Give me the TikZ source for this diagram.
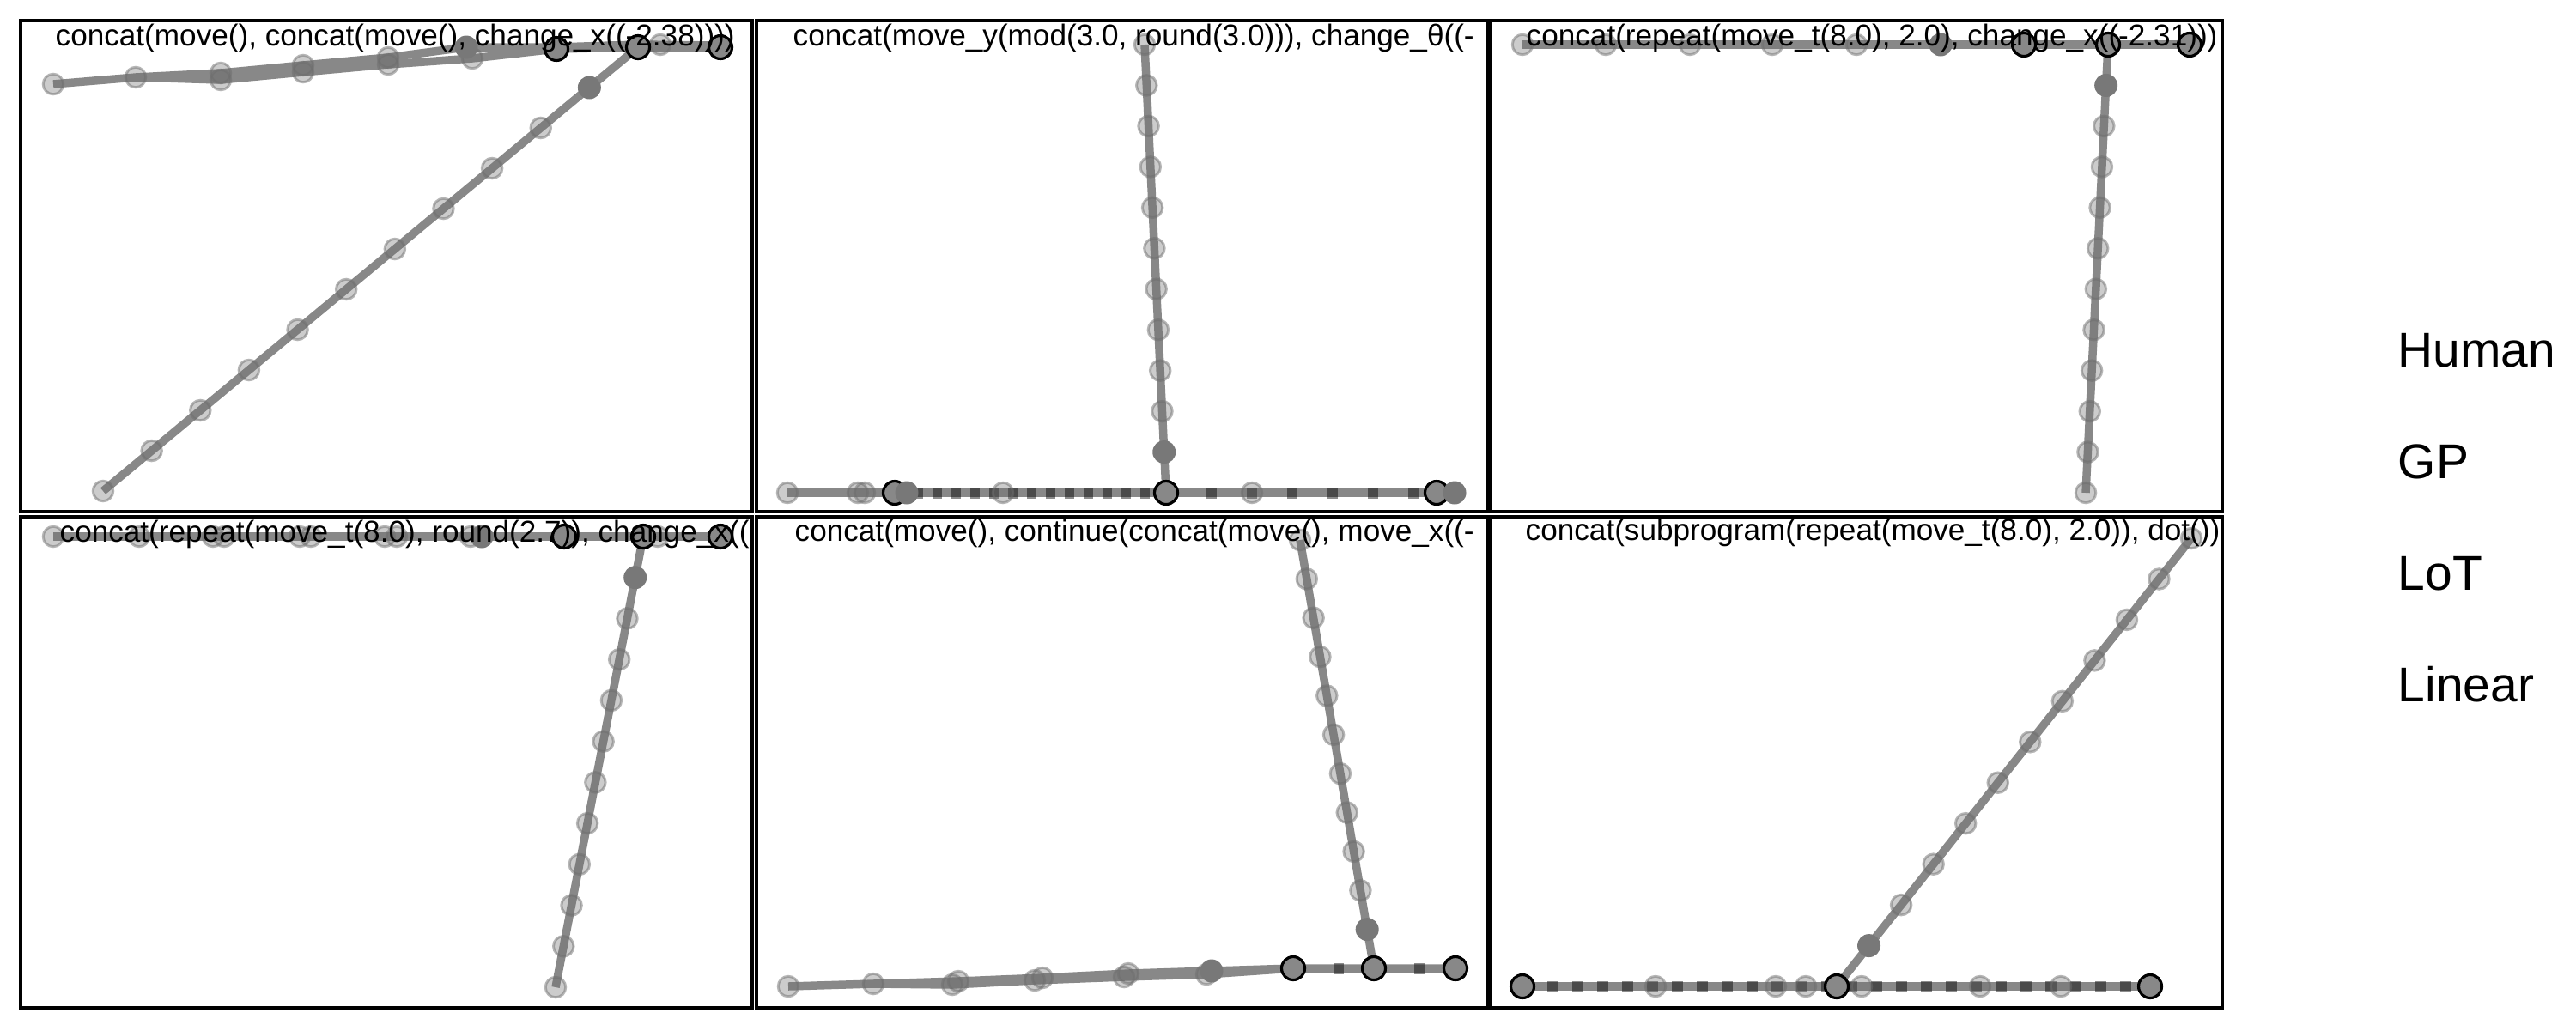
\documentclass[tikz,border=0pt]{standalone}
\usepackage{fontspec}
\setmainfont{Liberation Sans}
\usetikzlibrary{calc}
\newcommand{\PW}{8.52}
\newcommand{\PH}{5.72}
\definecolor{trk}{RGB}{136,136,136}
\definecolor{trkmark}{RGB}{110,110,110}
\definecolor{trkdark}{RGB}{120,120,120}

\begin{document}
\begin{tikzpicture}[x=1cm, y=-1cm,
    trace/.style={draw=trk, line width=2.7pt},
    penup/.style={draw=black, draw opacity=0.45, line width=3.7pt},
    lite/.style={circle, fill=trkmark, fill opacity=0.35, draw=trkmark, draw opacity=0.5, line width=0.85pt, minimum size=2.35mm, inner sep=0pt},
    dark/.style={circle, fill=trkdark, draw=none, minimum size=2.7mm, inner sep=0pt},
    endpt/.style={circle, fill=trk, draw=black, line width=0.9pt, minimum size=2.7mm, inner sep=0pt},
    frame/.style={draw=black, line width=1.15pt},
    prog/.style={anchor=base west, inner sep=0pt, font=\fontsize{10}{12}\selectfont},
    rowlab/.style={anchor=base west, inner sep=0pt, font=\fontsize{16.2}{19}\selectfont},
  ]
  \useasboundingbox (0,0) rectangle (30,12);

  %% top left
  \begin{scope}[shift={(0.24,0.24)}]
    \clip (0,0) rectangle (\PW,\PH);
    \foreach \i/\x/\y in {1/0.38/0.74, 2/1.34/0.66, 3/2.33/0.69, 4/3.29/0.60, 5/4.28/0.51, 6/5.26/0.44, 7/6.24/0.33, 8/7.19/0.31, 9/8.15/0.31}
      { \coordinate (aL\i) at (\x,\y); }
    \foreach \i/\x/\y in {1/1.34/0.66, 2/2.33/0.61, 3/3.29/0.52, 4/4.28/0.43, 5/5.19/0.31, 6/6.24/0.31, 7/7.19/0.28, 8/8.15/0.29}
      { \coordinate (aU\i) at (\x,\y); }
    \coordinate (aD0) at (aL8);
    \coordinate (aD11) at (0.96,5.48);
    \draw[trace] (aL1) \foreach \i in {2,...,9} { -- (aL\i) };
    \draw[trace] (aU1) \foreach \i in {2,...,8} { -- (aU\i) };
    \draw[trace] (aD0) -- (aD11);
    \foreach \i in {1,...,6} { \node[lite] (aLm\i) at (aL\i) {}; }
    \foreach \i in {2,3,4} { \node[lite] (aUm\i) at (aU\i) {}; }
    \node[dark] (aUm5) at (aU5) {};
    \node[lite] (aXm) at (7.45,0.28) {};
    \node[dark] (aDm1) at ($(aD0)!1/11!(aD11)$) {};
    \foreach \i in {2,...,11} { \node[lite] (aDm\i) at ($(aD0)!\i/11!(aD11)$) {}; }
    \foreach \i in {7,8,9} { \node[endpt] (aLm\i) at (aL\i) {}; }
    \node[prog] (t1) at (0.40,0.29) {concat(move(), concat(move(), change\_x((-2.38))))};
  \end{scope}
  \draw[frame] (0.24,0.24) rectangle ++(\PW,\PH);

  %% top middle
  \begin{scope}[shift={(8.81,0.24)}]
    \clip (0,0) rectangle (\PW,\PH);
    \coordinate (bV0) at (4.52,0.28);
    \coordinate (bV11) at (4.77,5.50);
    \coordinate (bH0) at (0.36,5.50);
    \coordinate (bH1) at (8.13,5.50);
    \coordinate (bJ0) at (1.61,5.50);
    \coordinate (bJ2) at (7.92,5.50);
    \draw[trace] (bV0) -- (bV11);
    \draw[trace] (bH0) -- (bH1);
    \draw[penup, dash pattern=on 1.1mm off 1.1mm] (bJ0) -- (bV11);
    \draw[penup, dash pattern=on 1.2mm off 3.5mm] (bV11) -- (bJ2);
    \foreach \i in {0,...,9} { \node[lite] (bVm\i) at ($(bV0)!\i/11!(bV11)$) {}; }
    \node[dark] (bVm10) at ($(bV0)!10/11!(bV11)$) {};
    \foreach \n/\x in {1/0.36, 2/1.18, 3/1.26, 4/2.87, 5/5.77} { \node[lite] (bHm\n) at (\x,5.50) {}; }
    \node[endpt] (bJm0) at (bJ0) {};
    \node[dark] (bHm6) at (1.75,5.50) {};
    \node[endpt] (bVm11) at (bV11) {};
    \node[endpt] (bJm2) at (bJ2) {};
    \node[dark] (bHm7) at (bH1) {};
    \node[prog] (t2) at (0.42,0.29) {concat(move\_y(mod(3.0, round(3.0))), change\_θ((-};
  \end{scope}
  \draw[frame] (8.81,0.24) rectangle ++(\PW,\PH);

  %% top right
  \begin{scope}[shift={(17.36,0.24)}]
    \clip (0,0) rectangle (\PW,\PH);
    \coordinate (cH0) at (0.37,0.28);
    \coordinate (cH1) at (8.14,0.28);
    \coordinate (cV0) at (7.19,0.28);
    \coordinate (cV11) at (6.93,5.50);
    \draw[trace] (cH0) -- (cH1);
    \draw[trace] (cV0) -- (cV11);
    \foreach \n/\x in {1/0.37, 2/1.34, 3/2.32, 4/3.28, 5/4.26} { \node[lite] (cHm\n) at (\x,0.28) {}; }
    \node[dark] (cHm6) at (5.24,0.28) {};
    \node[dark] (cVm1) at ($(cV0)!1/11!(cV11)$) {};
    \foreach \i in {2,...,11} { \node[lite] (cVm\i) at ($(cV0)!\i/11!(cV11)$) {}; }
    \foreach \n/\x in {7/6.21, 8/7.19, 9/8.14} { \node[endpt] (cHm\n) at (\x,0.28) {}; }
    \node[prog] (t3) at (0.41,0.29) {concat(repeat(move\_t(8.0), 2.0), change\_x((-2.31)))};
  \end{scope}
  \draw[frame] (17.36,0.24) rectangle ++(\PW,\PH);

  %% bottom left
  \begin{scope}[shift={(0.24,6.02)}]
    \clip (0,0) rectangle (\PW,\PH);
    \coordinate (dH0) at (0.38,0.23);
    \coordinate (dH1) at (8.15,0.23);
    \coordinate (dV0) at (7.25,0.23);
    \coordinate (dV11) at (6.23,5.48);
    \draw[trace] (dH0) -- (dH1);
    \draw[trace] (dV0) -- (dV11);
    \foreach \n/\x in {1/0.38, 2/1.38, 3/2.24, 4/2.37, 5/3.25, 6/3.38, 7/4.24, 8/4.38, 9/5.24, 10/7.42} { \node[lite] (dHm\n) at (\x,0.23) {}; }
    \node[dark] (dHm11) at (5.37,0.23) {};
    \node[dark] (dVm1) at ($(dV0)!1/11!(dV11)$) {};
    \foreach \i in {2,...,11} { \node[lite] (dVm\i) at ($(dV0)!\i/11!(dV11)$) {}; }
    \foreach \n/\x in {12/6.33, 13/7.25, 14/8.15} { \node[endpt] (dHm\n) at (\x,0.23) {}; }
    \node[prog] (t4) at (0.45,0.29) {concat(repeat(move\_t(8.0), round(2.7)), change\_x((};
  \end{scope}
  \draw[frame] (0.24,6.02) rectangle ++(\PW,\PH);

  %% bottom middle
  \begin{scope}[shift={(8.81,6.02)}]
    \clip (0,0) rectangle (\PW,\PH);
    \foreach \i/\x/\y in {1/0.37/5.47, 2/1.36/5.44, 3/2.28/5.45, 4/3.24/5.40, 5/4.28/5.36, 6/5.24/5.33, 7/6.25/5.26, 8/7.19/5.26, 9/8.14/5.26}
      { \coordinate (eL\i) at (\x,\y); }
    \foreach \i/\x/\y in {1/1.36/5.44, 2/2.35/5.41, 3/3.33/5.37, 4/4.33/5.32, 5/5.30/5.29, 6/6.25/5.26}
      { \coordinate (eU\i) at (\x,\y); }
    \coordinate (eV0) at (6.33,0.27);
    \draw[trace] (eL1) \foreach \i in {2,...,9} { -- (eL\i) };
    \draw[trace] (eU1) \foreach \i in {2,...,6} { -- (eU\i) };
    \draw[trace] (eV0) -- (eL8);
    \draw[penup, dash pattern=on 1.2mm off 3.5mm] (eL7) -- (eL9);
    \foreach \i in {1,...,6} { \node[lite] (eLm\i) at (eL\i) {}; }
    \foreach \i in {2,3,4} { \node[lite] (eUm\i) at (eU\i) {}; }
    \node[dark] (eUm5) at (eU5) {};
    \foreach \i in {0,...,9} { \node[lite] (eVm\i) at ($(eV0)!\i/11!(eL8)$) {}; }
    \node[dark] (eVm10) at ($(eV0)!10/11!(eL8)$) {};
    \foreach \i in {7,8,9} { \node[endpt] (eLm\i) at (eL\i) {}; }
    \node[prog] (t5) at (0.44,0.28) {concat(move(), continue(concat(move(), move\_x((-};
  \end{scope}
  \draw[frame] (8.81,6.02) rectangle ++(\PW,\PH);

  %% bottom right
  \begin{scope}[shift={(17.36,6.02)}]
    \clip (0,0) rectangle (\PW,\PH);
    \coordinate (fH0) at (0.37,5.47);
    \coordinate (fH1) at (7.68,5.47);
    \coordinate (fV0) at (4.03,5.47);
    \coordinate (fV11) at (8.16,0.25);
    \draw[trace] (fH0) -- (fH1);
    \draw[penup, dash pattern=on 1.3mm off 1.6mm] (fH0) -- (fH1);
    \draw[trace] (fV0) -- (fV11);
    \foreach \n/\x in {1/1.92, 2/3.32, 3/3.67, 4/4.32, 5/5.70, 6/6.64} { \node[lite] (fHm\n) at (\x,5.47) {}; }
    \node[dark] (fVm1) at ($(fV0)!1/11!(fV11)$) {};
    \foreach \i in {2,...,11} { \node[lite] (fVm\i) at ($(fV0)!\i/11!(fV11)$) {}; }
    \node[endpt] (fHm0) at (fH0) {};
    \node[endpt] (fVm0) at (fV0) {};
    \node[endpt] (fHm7) at (fH1) {};
    \node[prog] (t6) at (0.40,0.27) {concat(subprogram(repeat(move\_t(8.0), 2.0)), dot())};
  \end{scope}
  \draw[frame] (17.36,6.02) rectangle ++(\PW,\PH);

  %% row labels
  \node[rowlab] (lhuman) at (27.92,4.27) {Human};
  \node[rowlab] (lgp) at (27.92,5.57) {GP};
  \node[rowlab] (llot) at (27.92,6.87) {LoT};
  \node[rowlab] (llinear) at (27.92,8.17) {Linear};

\end{tikzpicture}
\end{document}
